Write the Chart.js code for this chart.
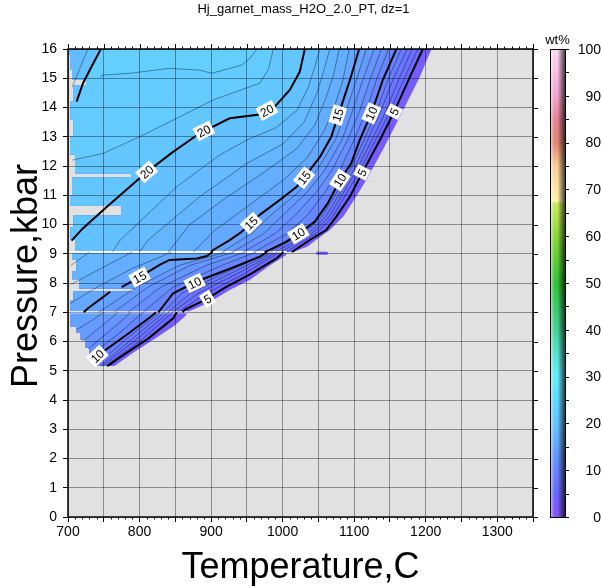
<!DOCTYPE html>
<html>
<head>
<meta charset="utf-8">
<script src="https://cdn.jsdelivr.net/npm/chart.js@4.4.0/dist/chart.umd.min.js"></script>
<style>
  html, body { margin: 0; padding: 0; background: #fff; }
</style>
</head>
<body>
<canvas id="c" width="602" height="587"></canvas>
<script>
// texts and axis ranges
const chartTitle = 'Hj_garnet_mass_H2O_2.0_PT, dz=1';
const tempAxisTitle = 'Temperature,C';
const pressAxisTitle = 'Pressure,kbar';
const barTitle = 'wt%';
const tempLimits = [700, 1350];
const pressLimits = [0, 16];
const barLimits = [0, 100];
const barTickValues = [0, 10, 20, 30, 40, 50, 60, 70, 80, 90, 100];

// wt% colour scale: [value, r, g, b]
const barStops = [
  [0, 135, 85, 255], [3, 118, 92, 255], [5, 108, 104, 255], [10, 102, 132, 255],
  [15, 100, 165, 255], [20, 100, 196, 255], [25, 95, 218, 255], [30, 100, 238, 250],
  [35, 85, 225, 205], [40, 70, 210, 150], [50, 50, 195, 55], [60, 140, 215, 60],
  [67, 200, 232, 95], [67.5, 255, 240, 170], [75, 250, 205, 150], [80, 225, 135, 115],
  [85, 232, 130, 150], [90, 240, 165, 205], [100, 255, 215, 245]
];

// upper block (9.06 - 16 kbar): contour lines as [T, P]
const upperTop = 16;
const upperBoundary = [[1015,9.06],[1035,9.25],[1048,9.5],[1066,9.81],[1085,10.27],[1100,10.85],[1117,11.52],[1140,12.55],[1164,13.69],[1192,15.05],[1208,16]];
const upperEdge = [[700,16],[700,15.8],[703,15.8],[703,15.3],[706,15.3],[706,14.95],[726,14.95],[726,14.77],[708,14.77],[708,14.2],[704,14.2],[704,13.6],[708,13.6],[708,13.0],[703,13.0],[703,12.4],[710,12.4],[710,11.75],[789,11.75],[789,11.6],[706,11.6],[706,11.0],[703,11.0],[703,10.65],[775,10.65],[775,10.3],[708,10.3],[708,9.9],[704,9.9],[704,9.5],[710,9.5],[710,9.06]];
const upperLevels = [5, 6, 7, 8, 9, 10, 11, 12, 13, 14, 15, 16, 17, 18, 19, 20, 21, 22];
const upperLines = [
  [[1013,9.06],[1038,9.47],[1061,9.81],[1075,10.27],[1094,10.95],[1112,11.8],[1136,12.89],[1156,13.86],[1178,15.05],[1196,16]],
  [[1005,9.06],[1047,9.7],[1070,10.27],[1107,11.8],[1130,12.9],[1150,13.86],[1169,14.94],[1189,16]],
  [[998,9.06],[1041,9.7],[1065,10.27],[1102,11.8],[1125,12.9],[1144,13.86],[1162,14.94],[1181,16]],
  [[990,9.06],[1036,9.7],[1060,10.27],[1098,11.8],[1119,12.9],[1137,13.86],[1154,14.94],[1174,16]],
  [[983,9.06],[1030,9.7],[1055,10.27],[1093,11.8],[1114,12.9],[1131,13.86],[1147,14.94],[1166,16]],
  [[975,9.06],[982,9.13],[1004,9.4],[1024,9.7],[1045,10.1],[1063,10.72],[1080,11.5],[1096,12.1],[1108,12.9],[1124,13.8],[1140,14.94],[1159,16]],
  [[960,9.06],[1007,9.7],[1035,10.33],[1059,11.1],[1080,11.86],[1100,12.9],[1117,13.9],[1131,14.94],[1148,16]],
  [[945,9.06],[990,9.7],[1018,10.33],[1047,11.1],[1069,11.86],[1091,12.9],[1108,13.9],[1122,14.94],[1138,16]],
  [[930,9.06],[974,9.7],[1001,10.33],[1034,11.1],[1059,11.86],[1083,12.9],[1098,13.9],[1112,14.94],[1128,16]],
  [[915,9.06],[957,9.7],[984,10.33],[1022,11.1],[1048,11.86],[1074,12.9],[1089,13.9],[1103,14.94],[1117,16]],
  [[900,9.06],[903,9.13],[925,9.45],[943,9.75],[968,10.33],[996,10.84],[1020,11.3],[1038,11.86],[1052,12.3],[1068,13.0],[1080,13.9],[1094,14.93],[1107,16]],
  [[875,9.06],[905,9.8],[950,10.6],[1000,11.5],[1035,12.3],[1058,13.2],[1072,14.0],[1084,14.9],[1093,16]],
  [[840,9.06],[870,10.0],[920,10.9],[975,11.8],[1020,12.6],[1045,13.4],[1060,14.3],[1071,15.1],[1079,16]],
  [[800,9.06],[812,9.47],[884,10.95],[950,12.09],[1000,12.75],[1030,13.5],[1048,14.5],[1058,15.3],[1066,16]],
  [[762,9.06],[773,9.47],[852,11.29],[912,12.38],[950,12.89],[990,13.3],[1020,13.9],[1036,14.7],[1045,15.4],[1052,16]],
  [[705,9.45],[720,9.85],[735,10.18],[756,10.64],[782,11.2],[808,11.75],[845,12.45],[884,13.12],[926,13.63],[968,13.76],[990,14.05],[1010,14.6],[1024,15.22],[1031,16]],
  [[706,12.2],[717,12.26],[749,12.43],[800,13.0],[852,13.63],[903,14.26],[968,14.83],[980,15.3],[987,16]],
  [[745,15.05],[749,15.11],[787,15.17],[842,15.34],[884,15.28],[901,15.17],[943,15.45],[955,15.7],[964,16]]
];
// lines where values fall again towards the left edge
const upperDipLevels = [20, 19];
const upperDipLines = [
  [[712,14.2],[721,14.83],[733,15.4],[746,16]],
  [[706,14.7],[716,15.3],[728,16]]
];

// middle block (7.0 - 9.06 kbar)
const middleTop = 9.06;
const middleBoundary = [[866,7.0],[884,7.19],[903,7.42],[926,7.76],[954,8.1],[982,8.6],[1005,8.96],[1006,9.06]];
const middleEdge = [[706,9.06],[706,8.8],[712,8.8],[712,8.4],[706,8.4],[706,8.1],[716,8.1],[716,7.82],[791,7.82],[791,7.7],[708,7.7],[708,7.4],[704,7.4],[704,7.0]];
const middleLevels = [5, 6, 7, 8, 9, 10, 11, 12, 13, 14, 15, 16, 17, 18];
const middleLines = [
  [[860,7.0],[863,7.08],[893,7.44],[920,7.85],[955,8.3],[992,8.85],[1001,9.06]],
  [[853,7.0],[894,7.65],[945,8.3],[996,9.06]],
  [[846,7.0],[882,7.65],[935,8.3],[992,9.06]],
  [[840,7.0],[871,7.65],[925,8.3],[987,9.06]],
  [[833,7.0],[859,7.65],[915,8.3],[983,9.06]],
  [[826,7.0],[828,7.05],[847,7.65],[880,8.05],[936,8.58],[968,8.9],[978,9.06]],
  [[805,7.0],[846,7.85],[915,8.6],[963,9.06]],
  [[784,7.0],[829,7.85],[893,8.6],[948,9.06]],
  [[764,7.0],[811,7.85],[870,8.6],[932,9.06]],
  [[743,7.0],[795,7.85],[855,8.6],[905,8.95],[920,9.06]],
  [[722,7.0],[728,7.14],[759,7.7],null,[775,7.86],[800,8.2],[828,8.62],[842,8.79],[880,8.84],[894,8.92],[902,9.06]],
  [[703,7.3],[740,7.85],[790,8.5],[825,8.85],[845,9.06]],
  [[704,7.95],[750,8.55],[790,9.06]],
  [[704,8.6],[730,9.06]]
];

// lower block (5.16 - 7.0 kbar)
const lowerTop = 7.0;
const lowerBoundary = [[765,5.16],[790,5.6],[822,6.1],[849,6.55],[863,6.85],[868,7.0]];
const lowerEdge = [[704,7.0],[704,6.5],[712,6.5],[712,6.3],[718,6.3],[718,6.05],[724,6.05],[724,5.8],[730,5.8],[730,5.55],[735,5.55],[735,5.3],[740,5.3],[740,5.16]];
const lowerLevels = [5, 6, 7, 8, 9, 10, 11, 12, 13, 14];
const lowerLines = [
  [[755,5.16],[775,5.5],[812,6.1],[847,6.79],[852,7.0]],
  [[752,5.16],[805,6.1],[846,7.0]],
  [[748,5.16],[797,6.1],[841,7.0]],
  [[745,5.16],[790,6.1],[835,7.0]],
  [[741,5.2],[782,6.1],[829,7.0]],
  [[738,5.4],[749,5.65],[783,6.25],[817,6.87],[823,7.0]],
  [[732,5.55],[770,6.25],[805,7.0]],
  [[728,5.75],[760,6.4],[788,7.0]],
  [[720,6.0],[748,6.55],[770,7.0]],
  [[712,6.4],[735,6.75],[750,7.0]]
];

// white seams between blocks: [P, T from, T to]
const seamLines = [[9.06, 700, 1006], [7.0, 700, 868]];
// stray cell right of the middle block: [T from, T to, P, wt%]
const strayCell = [1047, 1063, 9.02, 3];
// contour labels: [level, T, P]
const labelList = [
  [20, 810, 11.8], [20, 890, 13.2], [20, 978, 13.9],
  [15, 956, 10.05], [15, 1030, 11.6], [15, 1077, 13.74],
  [10, 1022, 9.68], [10, 1080, 11.52], [10, 1124, 13.8],
  [5, 1111, 11.78], [5, 1156, 13.86],
  [15, 800, 8.2], [10, 877, 8.0], [5, 895, 7.46],
  [10, 741, 5.5]
];

const sections = [
  { top: upperTop, boundary: upperBoundary, edge: upperEdge, levels: upperLevels, lines: upperLines, dipLevels: upperDipLevels, dipLines: upperDipLines },
  { top: middleTop, boundary: middleBoundary, edge: middleEdge, levels: middleLevels, lines: middleLines, dipLevels: [], dipLines: [] },
  { top: lowerTop, boundary: lowerBoundary, edge: lowerEdge, levels: lowerLevels, lines: lowerLines, dipLevels: [], dipLines: [] }
];

const FONT = '"Liberation Sans", Arial, Helvetica, sans-serif';

function wtColor(v) {
  if (v <= barStops[0][0]) return `rgb(${barStops[0][1]},${barStops[0][2]},${barStops[0][3]})`;
  for (let i = 1; i < barStops.length; i++) {
    const a = barStops[i - 1], b = barStops[i];
    if (v <= b[0]) {
      const t = (v - a[0]) / (b[0] - a[0]);
      const c = [1, 2, 3].map(k => Math.round(a[k] + (b[k] - a[k]) * t));
      return `rgb(${c[0]},${c[1]},${c[2]})`;
    }
  }
  const l = barStops[barStops.length - 1];
  return `rgb(${l[1]},${l[2]},${l[3]})`;
}

function tracePath(ctx, pts, sx, sy) {
  let first = true;
  pts.forEach(p => {
    if (!p) return;
    const px = sx.getPixelForValue(p[0]), py = sy.getPixelForValue(p[1]);
    if (first) { ctx.moveTo(px, py); first = false; } else ctx.lineTo(px, py);
  });
}

// area on the high side of a contour, closed along the left and top of its block
function regionPath(ctx, line, top, sx, sy) {
  const pts = line.filter(Boolean);
  ctx.beginPath();
  tracePath(ctx, pts.concat([[tempLimits[0], top], [tempLimits[0], pts[0][1]]]), sx, sy);
  ctx.closePath();
}

function lineSet(line, level) {
  const major = level % 5 === 0;
  return {
    data: line.map(p => p ? { x: p[0], y: p[1] } : { x: null, y: null }),
    showLine: true,
    pointRadius: 0,
    borderColor: major ? '#000' : 'rgba(0,0,0,0.55)',
    borderWidth: major ? 2 : 0.7,
    tension: 0,
    spanGaps: false,
    fill: false
  };
}

const datasets = [];
sections.forEach(s => {
  s.lines.forEach((ln, i) => datasets.push(lineSet(ln, s.levels[i])));
  s.dipLines.forEach((ln, i) => datasets.push(lineSet(ln, s.dipLevels[i])));
});

const contourPlugin = {
  id: 'contourFill',
  beforeDraw(chart) {
    const { ctx, chartArea: a, scales: { x, y } } = chart;
    ctx.save();
    ctx.fillStyle = '#fff';
    ctx.fillRect(0, 0, chart.width, chart.height);
    ctx.fillStyle = '#e1e1e1';
    ctx.fillRect(a.left, a.top, a.right - a.left, a.bottom - a.top);
    ctx.beginPath();
    ctx.rect(a.left, a.top, a.right - a.left, a.bottom - a.top);
    ctx.clip();

    sections.forEach(s => {
      ctx.save();
      ctx.beginPath();
      tracePath(ctx, s.boundary.concat(s.edge), x, y);
      ctx.closePath();
      ctx.fillStyle = wtColor(3);
      ctx.fill();
      ctx.clip();
      s.lines.forEach((ln, i) => {
        regionPath(ctx, ln, s.top, x, y);
        ctx.fillStyle = wtColor(s.levels[i] + 0.5);
        ctx.fill();
      });
      s.dipLines.forEach((ln, i) => {
        regionPath(ctx, ln, s.top, x, y);
        ctx.fillStyle = wtColor(s.dipLevels[i] - 0.5);
        ctx.fill();
      });
      ctx.restore();
    });

    ctx.strokeStyle = '#fff';
    ctx.lineWidth = 2;
    seamLines.forEach(sm => {
      ctx.beginPath();
      ctx.moveTo(x.getPixelForValue(sm[1]), y.getPixelForValue(sm[0]));
      ctx.lineTo(x.getPixelForValue(sm[2]), y.getPixelForValue(sm[0]));
      ctx.stroke();
    });

    ctx.strokeStyle = wtColor(strayCell[3]);
    ctx.lineWidth = 3;
    ctx.beginPath();
    ctx.moveTo(x.getPixelForValue(strayCell[0]), y.getPixelForValue(strayCell[2]));
    ctx.lineTo(x.getPixelForValue(strayCell[1]), y.getPixelForValue(strayCell[2]));
    ctx.stroke();
    ctx.restore();
  },

  afterDatasetsDraw(chart) {
    const { ctx, chartArea: a, scales: { x, y } } = chart;
    ctx.save();
    ctx.beginPath();
    ctx.rect(a.left, a.top, a.right - a.left, a.bottom - a.top);
    ctx.clip();
    ctx.font = '12px ' + FONT;
    ctx.textAlign = 'center';
    ctx.textBaseline = 'middle';
    labelList.forEach(([lev, t, p]) => {
      const px = x.getPixelForValue(t), py = y.getPixelForValue(p);
      // direction of the nearest segment of a line with the same level
      let best = Infinity, ang = 0;
      sections.forEach(s => {
        s.lines.forEach((ln, i) => {
          if (s.levels[i] !== lev) return;
          for (let k = 1; k < ln.length; k++) {
            if (!ln[k] || !ln[k - 1]) continue;
            const x1 = x.getPixelForValue(ln[k - 1][0]), y1 = y.getPixelForValue(ln[k - 1][1]);
            const x2 = x.getPixelForValue(ln[k][0]), y2 = y.getPixelForValue(ln[k][1]);
            const mx = (x1 + x2) / 2, my = (y1 + y2) / 2;
            const d = (mx - px) ** 2 + (my - py) ** 2;
            if (d < best) { best = d; ang = Math.atan2(y2 - y1, x2 - x1); }
          }
        });
      });
      if (ang > Math.PI / 2) ang -= Math.PI;
      if (ang < -Math.PI / 2) ang += Math.PI;
      const txt = String(lev);
      const w = ctx.measureText(txt).width + 5;
      ctx.save();
      ctx.translate(px, py);
      ctx.rotate(ang);
      ctx.fillStyle = '#fff';
      ctx.fillRect(-w / 2, -7, w, 14);
      ctx.fillStyle = '#000';
      ctx.fillText(txt, 0, 1);
      ctx.restore();
    });
    ctx.restore();
  },

  afterDraw(chart) {
    const { ctx, chartArea: a, scales: { x, y, cb } } = chart;
    ctx.save();
    // frame and extra ticks
    ctx.strokeStyle = '#000';
    ctx.lineWidth = 1;
    ctx.beginPath();
    for (let t = tempLimits[0]; t <= tempLimits[1]; t += 10) {
      const px = Math.round(x.getPixelForValue(t)) + 0.5;
      const len = t % 50 === 0 ? 5 : 2.5;
      ctx.moveTo(px, a.top); ctx.lineTo(px, a.top - len);
      if (t % 50 !== 0) { ctx.moveTo(px, a.bottom); ctx.lineTo(px, a.bottom + len); }
    }
    for (let p = pressLimits[0]; p <= pressLimits[1]; p += 1) {
      const py = Math.round(y.getPixelForValue(p)) + 0.5;
      ctx.moveTo(a.right, py); ctx.lineTo(a.right + 5, py);
    }
    ctx.stroke();
    ctx.lineWidth = 1.5;
    ctx.strokeRect(a.left, a.top, a.right - a.left, a.bottom - a.top);

    // colour bar
    const bx = a.right + 17, bw = 15;
    const btop = cb.getPixelForValue(barLimits[1]), bbot = cb.getPixelForValue(barLimits[0]);
    const g = ctx.createLinearGradient(0, bbot, 0, btop);
    barStops.forEach(s => g.addColorStop((s[0] - barLimits[0]) / (barLimits[1] - barLimits[0]), wtColor(s[0])));
    ctx.fillStyle = g;
    ctx.fillRect(bx, btop, bw, bbot - btop);
    const sh = ctx.createLinearGradient(bx, 0, bx + bw, 0);
    sh.addColorStop(0, 'rgba(255,255,255,0.6)');
    sh.addColorStop(0.3, 'rgba(255,255,255,0)');
    sh.addColorStop(0.5, 'rgba(0,0,0,0)');
    sh.addColorStop(1, 'rgba(0,0,0,0.72)');
    ctx.fillStyle = sh;
    ctx.fillRect(bx, btop, bw, bbot - btop);
    ctx.lineWidth = 1;
    ctx.strokeRect(bx + 0.5, btop + 0.5, bw, bbot - btop);
    ctx.beginPath();
    for (let v = barLimits[0]; v <= barLimits[1]; v += 5) {
      const py = Math.round(cb.getPixelForValue(v)) + 0.5;
      ctx.moveTo(bx + bw, py); ctx.lineTo(bx + bw + 4, py);
    }
    ctx.stroke();

    ctx.fillStyle = '#000';
    ctx.font = '14px ' + FONT;
    ctx.textAlign = 'right';
    ctx.textBaseline = 'middle';
    barTickValues.forEach(v => ctx.fillText(String(v), 601, cb.getPixelForValue(v) + 1));

    ctx.textAlign = 'center';
    ctx.textBaseline = 'alphabetic';
    ctx.font = '13px ' + FONT;
    ctx.fillText(barTitle, bx + bw / 2, 44);
    ctx.fillText(chartTitle, (a.left + a.right) / 2 + 3, 13);

    ctx.font = '36px ' + FONT;
    ctx.fillText(tempAxisTitle, (a.left + a.right) / 2, 578);
    ctx.save();
    ctx.translate(37, 276);
    ctx.rotate(-Math.PI / 2);
    ctx.fillText(pressAxisTitle, 0, 0);
    ctx.restore();
    ctx.restore();
  }
};

new Chart(document.getElementById('c').getContext('2d'), {
  type: 'scatter',
  data: { datasets: datasets },
  options: {
    responsive: false,
    animation: false,
    events: [],
    layout: { padding: { top: 49, right: 69, left: 0, bottom: 0 } },
    plugins: { legend: { display: false }, tooltip: { enabled: false } },
    scales: {
      x: {
        type: 'linear',
        min: tempLimits[0],
        max: tempLimits[1],
        afterFit(s) { s.height = 70; },
        border: { display: false },
        grid: { color: 'rgba(0,0,0,0.38)', lineWidth: 1, tickLength: 5, tickColor: '#000' },
        ticks: {
          stepSize: 50,
          autoSkip: false,
          maxRotation: 0,
          padding: 2,
          color: '#000',
          font: { family: FONT, size: 14 },
          callback: v => (v % 100 === 0 && v < tempLimits[1]) ? String(v) : ''
        }
      },
      y: {
        type: 'linear',
        min: pressLimits[0],
        max: pressLimits[1],
        afterFit(s) { s.width = 68; },
        border: { display: false },
        grid: { color: 'rgba(0,0,0,0.38)', lineWidth: 1, tickLength: 5, tickColor: '#000' },
        ticks: { stepSize: 1, autoSkip: false, padding: 6, color: '#000', font: { family: FONT, size: 14 } }
      },
      cb: {
        type: 'linear',
        position: 'right',
        min: barLimits[0],
        max: barLimits[1],
        afterFit(s) { s.width = 0; },
        border: { display: false },
        grid: { display: false },
        ticks: { display: false }
      }
    }
  },
  plugins: [contourPlugin]
});
</script>
</body>
</html>
